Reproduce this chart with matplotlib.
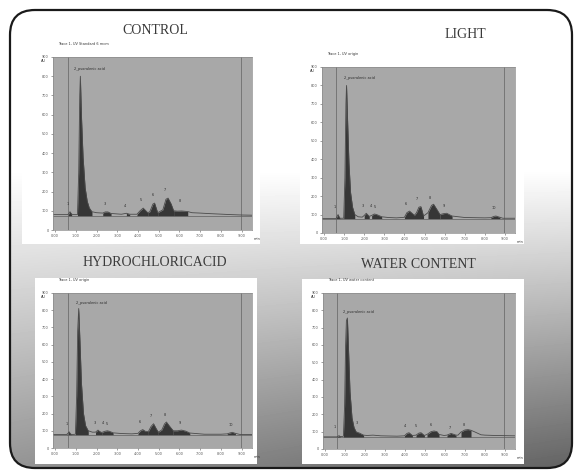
import numpy as np
import matplotlib
matplotlib.use("Agg")
import matplotlib.pyplot as plt
from matplotlib.patches import FancyBboxPatch, Rectangle

# Panel titles and trace headers
titles = ["CONTROL", "LIGHT", "HYDROCHLORICACID", "WATER CONTENT"]
headers = ["Trace 1, UV Standard 6 mcm", "Trace 1, UV origin",
           "Trace 1, UV origin", "Trace 1, UV water content"]
main_peak = "2_psoralenic acid"

# Axis ticks
y_ticks = [0, 100, 200, 300, 400, 500, 600, 700, 800, 900]
x_ticks = [0, 1, 2, 3, 4, 5, 6, 7, 8, 9]
x_tick_labels = ["0.00", "1.00", "2.00", "3.00", "4.00", "5.00", "6.00", "7.00", "8.00", "9.00"]

# Chromatogram traces (time in min, signal in mAU)
control_t = [-0.1, 0.6, 0.66, 0.72, 0.8, 0.9, 1.08, 1.14, 1.19, 1.22, 1.27, 1.35, 1.45, 1.55,
             1.65, 1.78, 2.0, 2.3, 2.42, 2.55, 2.7, 3.2, 3.44, 3.6, 3.95, 4.1, 4.25, 4.47,
             4.57, 4.72, 4.8, 4.95, 5.2, 5.35, 5.45, 5.6, 5.72, 5.9, 6.1, 6.4, 6.6, 7.0,
             7.5, 8.5, 9.0, 9.5]
control_y = [80, 80, 84, 95, 82, 80, 80, 300, 700, 800, 600, 380, 220, 150,
             115, 95, 90, 88, 94, 94, 86, 82, 87, 82, 82, 100, 114, 90,
             95, 135, 140, 90, 105, 160, 166, 135, 100, 98, 99, 96, 90, 88,
             85, 80, 78, 77]
control_base = 74
control_fill = [(0.6, 0.8), (1.08, 1.78), (2.3, 2.7), (3.3, 3.6), (3.95, 4.47),
                (4.47, 4.95), (4.95, 5.72), (5.72, 6.4)]
control_labels = [(0.6, 130, "1"), (2.4, 130, "3"), (3.35, 118, "4"), (4.15, 150, "5"),
                  (4.7, 175, "6"), (5.3, 205, "7"), (6.0, 145, "8")]

light_t = [-0.1, 0.6, 0.65, 0.7, 0.76, 0.8, 0.98, 1.04, 1.09, 1.12, 1.17, 1.24, 1.32, 1.42,
           1.53, 1.7, 1.9, 2.0, 2.1, 2.25, 2.37, 2.5, 2.62, 2.87, 3.2, 3.6, 4.0, 4.12,
           4.25, 4.5, 4.6, 4.72, 4.82, 4.95, 5.17, 5.35, 5.45, 5.6, 5.77, 5.95,
           6.1, 6.37, 7.0, 8.0, 8.3, 8.45, 8.55, 8.75, 8.9, 9.5]
light_y = [78, 78, 90, 100, 85, 80, 80, 300, 700, 800, 620, 380, 220, 140,
           100, 88, 86, 95, 107, 90, 95, 103, 100, 88, 84, 82, 85, 110,
           119, 96, 110, 140, 143, 92, 110, 150, 156, 130, 100, 105,
           107, 92, 84, 82, 83, 90, 92, 85, 80, 80]
light_base = 78
light_fill = [(0.6, 0.8), (0.98, 1.53), (2.0, 2.25), (2.37, 2.87), (4.0, 4.5),
              (4.5, 4.95), (5.17, 5.77), (5.77, 6.37), (8.3, 8.75)]
light_labels = [(0.55, 135, "1"), (1.95, 143, "3"), (2.35, 140, "4"), (2.55, 138, "5"),
                (4.05, 153, "6"), (4.62, 180, "7"), (5.28, 185, "8"), (5.95, 140, "9"),
                (8.45, 130, "10")]

hcl_t = [-0.1, 0.55, 0.62, 0.68, 0.74, 0.8, 0.98, 1.04, 1.09, 1.14, 1.2, 1.27, 1.37, 1.47,
         1.6, 1.8, 1.95, 2.07, 2.15, 2.25, 2.4, 2.52, 2.62, 2.8, 3.2, 3.7, 4.0, 4.12,
         4.23, 4.35, 4.5, 4.63, 4.75, 4.88, 4.98, 5.15, 5.28, 5.37, 5.5, 5.7, 5.9,
         6.1, 6.3, 6.5, 7.2, 8.0, 8.3, 8.45, 8.55, 8.7, 8.9, 9.5]
hcl_y = [78, 78, 85, 94, 82, 78, 80, 300, 680, 810, 620, 380, 200, 130,
         100, 92, 92, 104, 96, 90, 97, 100, 97, 88, 84, 82, 85, 100,
         107, 97, 95, 125, 141, 112, 92, 105, 140, 151, 130, 100, 100,
         104, 98, 87, 80, 80, 82, 88, 91, 85, 79, 78]
hcl_base = 77
hcl_fill = [(0.55, 0.8), (0.98, 1.6), (1.95, 2.25), (2.25, 2.8), (3.95, 4.5),
            (4.5, 4.98), (4.98, 5.7), (5.7, 6.5), (8.3, 8.85)]
hcl_labels = [(0.55, 135, "1"), (1.9, 140, "3"), (2.3, 140, "4"), (2.48, 135, "5"),
              (4.1, 148, "6"), (4.62, 180, "7"), (5.28, 185, "8"), (6.0, 140, "9"),
              (8.5, 128, "10")]

water_t = [-0.1, 0.6, 0.66, 0.7, 0.76, 0.85, 0.92, 0.98, 1.03, 1.07, 1.12, 1.18, 1.25, 1.35,
           1.45, 1.55, 1.62, 1.72, 1.82, 1.93, 2.1, 2.4, 2.8, 3.6, 3.97, 4.1, 4.2, 4.37,
           4.55, 4.7, 4.8, 4.97, 5.1, 5.3, 5.45, 5.6, 5.7, 5.95, 6.1, 6.3, 6.55,
           6.65, 6.8, 7.0, 7.15, 7.3, 7.5, 7.8, 8.0, 8.5, 9.5]
water_y = [70, 70, 74, 77, 72, 72, 74, 250, 600, 740, 756, 560, 330, 180,
           125, 100, 96, 92, 86, 80, 78, 80, 76, 74, 76, 90, 94, 78,
           80, 92, 94, 78, 84, 100, 104, 100, 84, 78, 80, 90, 80,
           80, 98, 110, 112, 108, 98, 82, 80, 78, 76]
water_base = 67
water_fill = [(0.6, 0.8), (0.92, 1.93), (3.97, 4.37), (4.55, 4.97), (5.1, 5.7),
              (6.1, 6.55), (6.8, 7.3)]
water_labels = [(0.5, 120, "1"), (1.6, 145, "3"), (4.0, 125, "4"), (4.55, 125, "5"),
                (5.3, 135, "6"), (6.25, 118, "7"), (6.95, 130, "8")]

main_label_pos = [(0.9, 830), (1.0, 835), (1.0, 835), (0.9, 785)]

panels = [
    (control_t, control_y, control_base, control_fill, control_labels),
    (light_t, light_y, light_base, light_fill, light_labels),
    (hcl_t, hcl_y, hcl_base, hcl_fill, hcl_labels),
    (water_t, water_y, water_base, water_fill, water_labels),
]

W, H = 574, 472
fig = plt.figure(figsize=(W / 100, H / 100), dpi=100)
fig.patch.set_facecolor("white")

# Background frame with grey gradient
bg = fig.add_axes([0, 0, 1, 1])
bg.set_xlim(0, W)
bg.set_ylim(H, 0)
bg.axis("off")

yy, xx = np.mgrid[0:H, 0:W]
s = np.clip((yy - 170) / 300.0, 0, 1)
shade = 1.0 - 0.42 * s - 0.2 * (xx / W) * s
grad = bg.imshow(shade, cmap="gray", vmin=0, vmax=1, extent=(0, W, H, 0), zorder=0)
frame = FancyBboxPatch((10, 10), 562, 458, boxstyle="round,pad=0,rounding_size=25",
                       facecolor="none", edgecolor="#1a1a1a", lw=1.6, zorder=3)
bg.add_patch(frame)
grad.set_clip_path(frame)

# White boxes behind each chromatogram
boxes = [(22, 38, 238, 206), (300, 50, 224, 194), (35, 278, 222, 186), (302, 279, 222, 185)]
for bx, by, bw, bh in boxes:
    bg.add_patch(Rectangle((bx, by), bw, bh, facecolor="white", edgecolor="none", zorder=1))

# Titles
title_pos = [(155, 30), (465, 35), (155, 262), (418, 265)]
for (tx, ty), title in zip(title_pos, titles):
    bg.text(tx, ty, title, ha="center", va="center", fontsize=10,
            family="Liberation Serif", color="#3a3a3a", zorder=4)

# Plot areas (left, top, right, bottom) in pixels
areas = [(53, 57, 252, 230), (322, 67, 515, 233), (53, 293, 252, 448), (323, 293, 515, 449)]

for i, (l, t, r, b) in enumerate(areas):
    tt, sig, base, fills, labels = panels[i]
    tt = np.array(tt)
    sig = np.array(sig)
    ax = fig.add_axes([l / W, 1 - b / H, (r - l) / W, (b - t) / H])
    ax.set_facecolor("#a8a8a8")
    ax.set_xlim(-0.1, 9.5)
    ax.set_ylim(0, 900)

    ax.axvline(0.6, color="#6e6e6e", lw=0.6)
    ax.axvline(8.95, color="#6e6e6e", lw=0.6)
    ax.axhline(base, color="#5e5e5e", lw=0.5)

    # shaded peak areas down to the baseline
    for a, c in fills:
        m = (tt >= a) & (tt <= c)
        ax.fill_between(tt[m], sig[m], base, color="#363636", lw=0)
    ax.plot(tt, sig, color="#4a4a4a", lw=0.6)

    for px, py, txt in labels:
        ax.text(px, py, txt, fontsize=2.5, color="#2a2a2a", ha="center")
    mx, my = main_label_pos[i]
    ax.text(mx, my, main_peak, fontsize=2.5, color="#2a2a2a")

    ax.set_yticks(y_ticks)
    ax.set_yticklabels([str(v) for v in y_ticks])
    ax.set_xticks(x_ticks)
    ax.set_xticklabels(x_tick_labels)
    ax.tick_params(labelsize=2.5, length=1.5, width=0.4, pad=1.5, colors="#555555")
    for sp in ax.spines.values():
        sp.set_color("#8a8a8a")
        sp.set_linewidth(0.5)

    # header and units
    bg.text(l + 5, t - 12, headers[i], fontsize=2.5, color="#333333", zorder=4)
    bg.text(l - 12, t + 5, "AU", fontsize=2.5, color="#333333", zorder=4)
    bg.text(r + 2, b + 10, "min", fontsize=2.5, color="#333333", zorder=4)

fig.savefig("out.png", dpi=100)
